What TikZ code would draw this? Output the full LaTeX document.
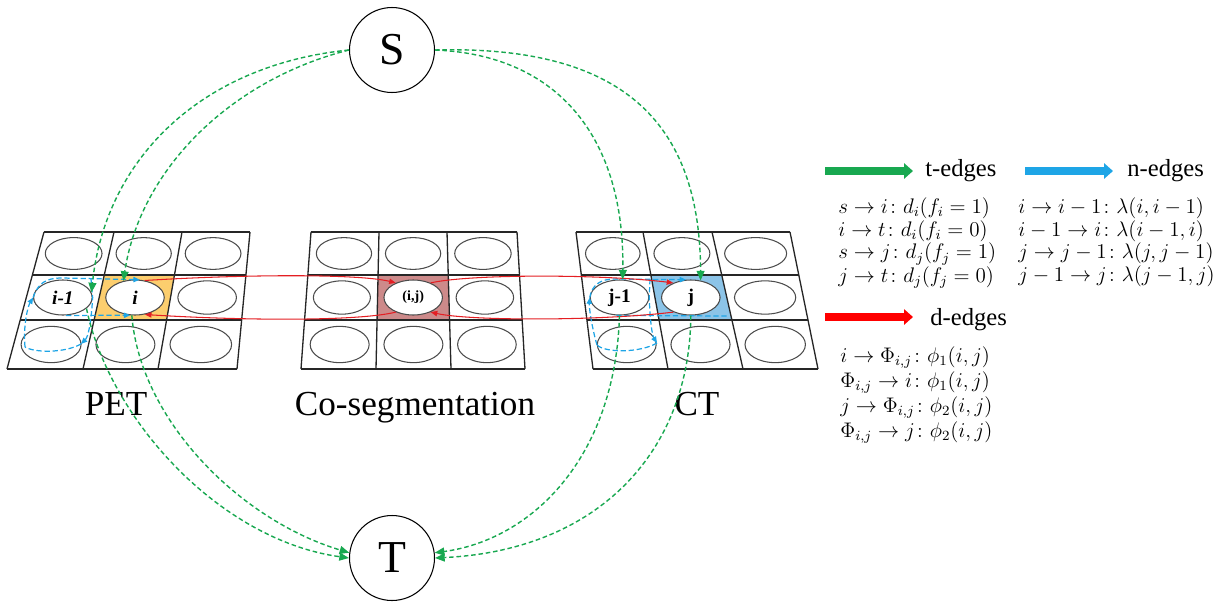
\documentclass[tikz,border=0pt]{standalone}
\usepackage{fontspec}
\setmainfont{Liberation Serif}
\usepackage{amsmath,amssymb}
\usepackage{xcolor}
\usetikzlibrary{arrows.meta,positioning,calc,shapes.geometric}

\definecolor{tgreen}{RGB}{24,168,80}
\definecolor{nblue}{RGB}{30,165,230}
\definecolor{dred}{RGB}{228,30,35}
\definecolor{petfill}{RGB}{252,206,110}
\definecolor{cosfill}{RGB}{205,138,138}
\definecolor{ctfill}{RGB}{140,196,232}

\begin{document}
\begin{tikzpicture}[x=0.02cm, y=-0.02cm,
  gridline/.style={draw=black!85, line width=0.75pt},
  cellring/.style={draw=black!70, line width=0.6pt},
  pix/.style={ellipse, draw=black!70, line width=0.6pt, fill=white, minimum width=1.17cm,
    minimum height=0.7cm, inner sep=0pt, font=\fontsize{11}{11}\selectfont\bfseries},
  term/.style={circle, draw, line width=0.6pt, minimum size=1.7cm, inner sep=0pt,
    font=\fontsize{26}{26}\selectfont},
  modality/.style={anchor=base, inner sep=0pt, font=\fontsize{20}{20}\selectfont},
  tedge/.style={tgreen, line width=0.8pt, dash pattern=on 2.6pt off 1.6pt,
    -{Triangle[length=5.5pt,width=4.5pt]}},
  nedge/.style={nblue, line width=0.7pt, dash pattern=on 3pt off 1.6pt,
    -{Triangle[length=3.6pt,width=3pt]}},
  dedge/.style={dred, line width=0.6pt, -{Triangle[length=3.8pt,width=3pt]}},
  keybar/.style={line width=4pt, -{Triangle[length=5pt,width=8.5pt]}},
  keytext/.style={anchor=base west, inner sep=0pt, font=\fontsize{14}{14}\selectfont},
  costlist/.style={anchor=north west, align=left, inner sep=0pt,
    font=\fontsize{11.5}{10.6}\selectfont}]
\useasboundingbox (0,0) rectangle (1217,605);

% highlighted cells
\fill[petfill] (104.3,275) -- (174.5,275) -- (166.6,320) -- (94.1,320) -- cycle;
\fill[cosfill] (378.1,275) -- (448.3,275) -- (449.6,320) -- (377.1,320) -- cycle;
\fill[ctfill] (650.8,275) -- (721.7,275) -- (731.9,320) -- (659.1,320) -- cycle;

% three 3x3 grids: top x of the column lines, then bottom x
\foreach \ta/\tb/\tc/\td/\ba/\bb/\bc/\bd in {44/114/182/250/7/83/158/237,
    311/379/447/517/301/376/451/525, 576/643/712/790/593/668/743/818}{
  \foreach \ya/\yb in {232/275,275/320,320/369}{
    \pgfmathsetmacro\sy{((\ya+\yb)/2-232)/137}
    \foreach \lx/\rx/\lbx/\rbx in {\ta/\tb/\ba/\bb,\tb/\tc/\bb/\bc,\tc/\td/\bc/\bd}{
      \pgfmathsetmacro\xl{\lx+(\lbx-\lx)*\sy}
      \pgfmathsetmacro\xr{\rx+(\rbx-\rx)*\sy}
      \draw[cellring] ({(\xl+\xr)/2},{(\ya+\yb)/2})
        ellipse [x radius={0.4*(\xr-\xl)}, y radius={0.37*(\yb-\ya)}];
    }
  }
  \foreach \yy in {232,275,320,369}{
    \pgfmathsetmacro\sy{(\yy-232)/137}
    \draw[gridline] ({\ta+(\ba-\ta)*\sy},\yy) -- ({\td+(\bd-\td)*\sy},\yy);
  }
  \draw[gridline] (\ta,232) -- (\ba,369) (\tb,232) -- (\bb,369)
    (\tc,232) -- (\bc,369) (\td,232) -- (\bd,369);
}

\node[pix] (im1) at (62.9,297.5) {\itshape i-1};
\node[pix] (i) at (135,297.5) {\itshape i};
\node[pix, font=\fontsize{8}{8}\selectfont\bfseries] (ij) at (413.2,297.5) {(i,j)};
\node[pix] (jm1) at (619.5,297.5) {j-1};
\node[pix] (j) at (690.8,297.5) {j};

\node[term] (S) at (392,50) {S};
\node[term] (T) at (392,558) {T};

\node[modality] (pet) at (116,415) {PET};
\node[modality] (coseg) at (415,415) {Co-segmentation};
\node[modality] (ct) at (697,415) {CT};

% n-edges
\coordinate (bl1) at (25,347);
\coordinate (bl2) at (81,344);
\coordinate (bl3) at (91,279);
\draw[nedge] (bl1) .. controls (23,325) and (28,306) .. (im1.west);
\draw[nedge] (im1.west) .. controls (38,283) and (46,278) .. (62,278) -- (i.75);
\draw[nedge] (im1.-80) -- (i.-105);
\draw[nedge] (bl3) -- (im1.east) .. controls (91,325) and (88,337) .. (bl2);
\draw[nedge, -] (bl2) .. controls (65,353) and (35,353) .. (bl1);
\coordinate (br1) at (597,345);
\coordinate (br2) at (657,343);
\coordinate (br3) at (650,279);
\coordinate (br4) at (727,316);
\draw[nedge] (br1) .. controls (592,328) and (589,308) .. (jm1.west);
\draw[nedge] (jm1.west) .. controls (592,285) and (600,279) .. (615,279) -- (j.105);
\draw[nedge] (br3) -- (jm1.east) .. controls (650,320) and (652,335) .. (br2);
\draw[nedge, -] (br2) .. controls (640,353) and (605,353) .. (br1);
\draw[nedge, -] (jm1.-100) -- (br4);

% d-edges
\draw[dedge] (i.60) .. controls (250,274) and (360,274) .. (ij.140);
\draw[dedge] (ij.-140) .. controls (360,321) and (250,321) .. (i.-60);
\draw[dedge] (ij.40) .. controls (470,274) and (600,274) .. (j.140);
\draw[dedge] (j.-140) .. controls (600,321) and (470,321) .. (ij.-40);

% t-edges
\draw[tedge] (S.west) .. controls (200,65) and (105,160) .. (im1.10);
\draw[tedge] (S.west) .. controls (230,80) and (140,170) .. (i.125);
\draw[tedge] (S.east) .. controls (560,55) and (625,140) .. (jm1.80);
\draw[tedge] (S.east) .. controls (620,45) and (700,120) .. (j.60);
\draw[tedge] (im1.-25) .. controls (110,420) and (220,540) .. (T.west);
\draw[tedge] (i.-100) .. controls (140,420) and (240,520) .. (T.173);
\draw[tedge] (jm1.south) .. controls (615,460) and (530,540) .. (T.7);
\draw[tedge] (j.south) .. controls (690,450) and (600,550) .. (T.east);

% legend
\coordinate (tkey) at (825,171);
\coordinate (nkey) at (1025,171);
\coordinate (dkey) at (825,317);
\draw[keybar, tgreen] (tkey) -- ++(88,0);
\draw[keybar, nblue] (nkey) -- ++(88,0);
\draw[keybar, red] (dkey) -- ++(88,0);
\node[keytext] (tlab) at (925,176) {t-edges};
\node[keytext] (nlab) at (1127,176) {n-edges};
\node[keytext] (dlab) at (930,325) {d-edges};
\node[costlist] (tcost) at (838,197) {\lineskiplimit=-6pt\relax
  $s \to i\colon d_i(f_i = 1)$\\ $i \to t\colon d_i(f_i = 0)$\\
  $s \to j\colon d_j(f_j = 1)$\\ $j \to t\colon d_j(f_j = 0)$};
\node[costlist] (ncost) at (1018,197) {\lineskiplimit=-6pt\relax
  $i \to i-1\colon \lambda(i, i-1)$\\ $i-1 \to i\colon \lambda(i-1, i)$\\
  $j \to j-1\colon \lambda(j, j-1)$\\ $j-1 \to j\colon \lambda(j-1, j)$};
\node[costlist, font=\fontsize{11.5}{14.2}\selectfont] (dcost) at (840,346)
  {\lineskiplimit=-6pt\relax
  $i \to \Phi_{i,j}\colon \phi_1(i,j)$\\ $\Phi_{i,j} \to i\colon \phi_1(i,j)$\\
  $j \to \Phi_{i,j}\colon \phi_2(i,j)$\\ $\Phi_{i,j} \to j\colon \phi_2(i,j)$};
\end{tikzpicture}
\end{document}
